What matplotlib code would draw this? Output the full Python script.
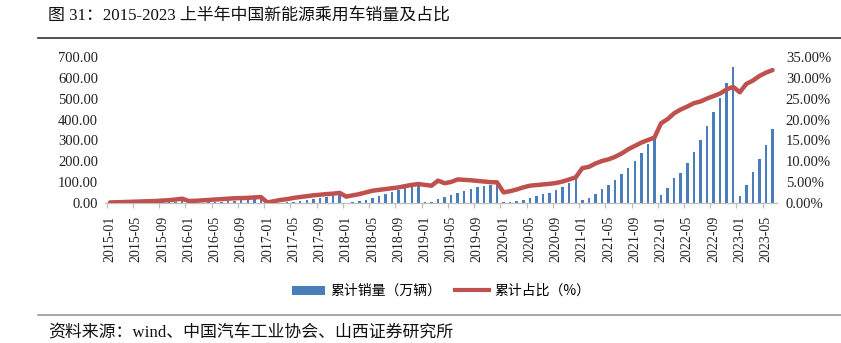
import numpy as np
import matplotlib
matplotlib.use("Agg")
import matplotlib.pyplot as plt
from matplotlib.lines import Line2D
from matplotlib.patches import Patch
from matplotlib.ticker import FuncFormatter

# Monthly periods, 2015-01 .. 2023-06
years = list(range(2015, 2024))
months = [f"{y}-{m:02d}" for y in years for m in range(1, 13)][:102]

# Year-to-date NEV passenger car sales (10k units)
sales_2015 = [0.3, 0.6, 1.0, 1.5, 2.0, 2.8, 3.4, 4.0, 5.0, 6.0, 7.2, 9.0]
sales_2016 = [0.8, 1.6, 3.0, 4.5, 6.5, 8.5, 10.5, 12.5, 15.0, 17.5, 21.0, 25.0]
sales_2017 = [0.5, 1.5, 3.5, 5.5, 8.0, 11.0, 16.0, 22.0, 27.0, 32.0, 35.0, 40.0]
sales_2018 = [3, 5, 9, 16, 26, 35, 43, 52, 62, 72, 82, 103]
sales_2019 = [4, 8, 22, 30, 41, 51, 60, 70, 77, 82, 85, 88]
sales_2020 = [4, 5, 9, 16, 24, 35, 43, 51, 64, 79, 98, 115]
sales_2021 = [16, 27, 46, 67, 87, 111, 138, 170, 202, 240, 283, 322]
sales_2022 = [40, 74, 119, 146, 191, 246, 302, 367, 434, 502, 576, 652]
sales_2023 = [37, 87, 148, 210, 278, 356]

# Year-to-date NEV share of passenger car sales (%)
share_2015 = [0.2, 0.25, 0.3, 0.35, 0.4, 0.45, 0.5, 0.55, 0.65, 0.75, 0.9, 1.1]
share_2016 = [0.55, 0.6, 0.7, 0.8, 0.9, 1.0, 1.1, 1.2, 1.25, 1.3, 1.4, 1.5]
share_2017 = [0.2, 0.5, 0.8, 1.0, 1.3, 1.5, 1.7, 1.9, 2.05, 2.2, 2.3, 2.5]
share_2018 = [1.6, 1.9, 2.2, 2.6, 3.0, 3.2, 3.4, 3.6, 3.8, 4.1, 4.4, 4.6]
share_2019 = [4.4, 4.2, 5.4, 4.8, 5.1, 5.7, 5.6, 5.5, 5.35, 5.2, 5.05, 5.0]
share_2020 = [2.6, 2.9, 3.3, 3.8, 4.2, 4.35, 4.5, 4.65, 4.85, 5.2, 5.7, 6.2]
share_2021 = [8.4, 8.7, 9.5, 10.1, 10.5, 11.1, 11.9, 12.9, 13.7, 14.5, 15.1, 15.7]
share_2022 = [19.1, 20.1, 21.5, 22.4, 23.1, 23.9, 24.3, 25.0, 25.6, 26.2, 27.2, 27.8]
share_2023 = [26.5, 28.5, 29.3, 30.4, 31.2, 31.8]

sales = (sales_2015 + sales_2016 + sales_2017 + sales_2018 + sales_2019 +
         sales_2020 + sales_2021 + sales_2022 + sales_2023)
share = (share_2015 + share_2016 + share_2017 + share_2018 + share_2019 +
         share_2020 + share_2021 + share_2022 + share_2023)

title = "图 31：2015-2023 上半年中国新能源乘用车销量及占比"
source = "资料来源：wind、中国汽车工业协会、山西证券研究所"
label_sales = "累计销量（万辆）"
label_share = "累计占比（%）"

BLUE = "#4A7EBB"
RED = "#C0504D"
GRID = "#BFBFBF"
serif = ["Liberation Serif", "Noto Sans CJK SC"]
cjk = ["Noto Sans CJK SC", "DejaVu Sans"]

W, H = 841, 343
fig = plt.figure(figsize=(W / 100, H / 100), dpi=100)

x = np.arange(len(months))
px_per = 6.56
left_px = 110 - 0.75 * px_per
width_px = (len(months) - 1 + 1.5) * px_per
ax = fig.add_axes([left_px / W, (H - 203.3) / H, width_px / W, 146.6 / H])

ax.bar(x, sales, width=0.38, color=BLUE, zorder=2)
ax.set_xlim(-0.75, len(months) - 1 + 0.75)
ax.set_ylim(0, 700)
ax.set_yticks(np.arange(0, 701, 100))
ax.yaxis.set_major_formatter(FuncFormatter(lambda v, p: f"{v:.2f}"))

for s in ["left", "right", "top"]:
    ax.spines[s].set_visible(False)
ax.spines["bottom"].set_color(GRID)
ax.spines["bottom"].set_linewidth(0.9)

tick_pos = x[::4]
ax.set_xticks(tick_pos)
ax.set_xticklabels([months[i] for i in tick_pos], rotation=90,
                   family=serif, fontsize=10, color="#222222")
ax.set_xticks(np.arange(-0.5, len(months) - 1, 4), minor=True)
ax.tick_params(axis="x", which="major", length=0, pad=9)
ax.tick_params(axis="x", which="minor", length=3.6, width=0.9, color=GRID,
               direction="out")
ax.tick_params(axis="y", length=0, pad=5, labelsize=10.5, labelcolor="#222222")
for lab in ax.get_yticklabels():
    lab.set_family(serif)

ax2 = ax.twinx()
ax2.plot(x, share, color=RED, lw=3.2, solid_joinstyle="round",
         solid_capstyle="round", zorder=3)
ax2.set_ylim(0, 35)
ax2.set_yticks(np.arange(0, 36, 5))
ax2.yaxis.set_major_formatter(FuncFormatter(lambda v, p: f"{v:.2f}%"))
for s in ax2.spines.values():
    s.set_visible(False)
ax2.tick_params(axis="y", length=0, pad=6, labelsize=10.5, labelcolor="#222222")
for lab in ax2.get_yticklabels():
    lab.set_family(serif)

handles = [Patch(facecolor=BLUE, edgecolor="none", label=label_sales),
           Line2D([0], [0], color=RED, lw=3, label=label_share)]
fig.legend(handles=handles, loc="center", bbox_to_anchor=(441 / W, 1 - 291 / H),
           ncol=2, frameon=False, prop={"family": cjk, "size": 10},
           handlelength=2.4, handleheight=0.6, handletextpad=0.4,
           columnspacing=1.0)

fig.text(48 / W, 1 - 16 / H, title, family=serif, fontsize=12.2,
         va="center", ha="left", color="#111111")
fig.text(48 / W, 1 - 333 / H, source, family=serif, fontsize=12.2,
         va="center", ha="left", color="#111111")

fig.add_artist(Line2D([38 / W, 1.0], [1 - 38.3 / H] * 2, color="#333333", lw=1.2))
fig.add_artist(Line2D([38 / W, 1.0], [1 - 315 / H] * 2, color="#999999", lw=1.2))

fig.savefig("out.png", dpi=100)
